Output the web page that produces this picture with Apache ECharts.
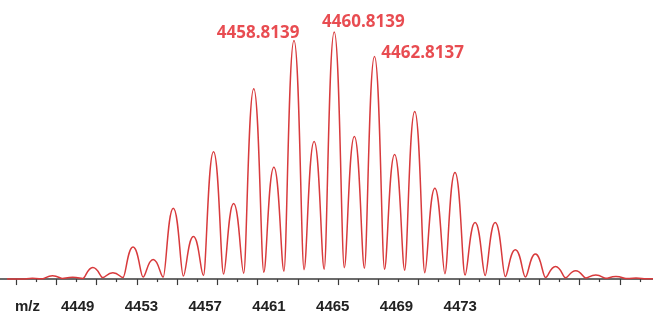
<!DOCTYPE html>
<html>
<head>
<meta charset="utf-8">
<script src="https://cdn.jsdelivr.net/npm/echarts@6/dist/echarts.min.js"></script>
<style>html,body{margin:0;padding:0;background:#fff;}#chart{width:653px;height:322px;}</style>
</head>
<body>
<div id="chart"></div>
<script>
// Profile points (peak tops and valleys), m/z and relative intensity (%)
var profileMz = [4444.55, 4445.31, 4445.81, 4446.31, 4446.81, 4447.31, 4447.81, 4448.31, 4448.81, 4449.31,
  4449.81, 4450.31, 4450.81, 4451.31, 4451.81, 4452.31, 4452.81, 4453.31, 4453.81, 4454.31,
  4454.81, 4455.31, 4455.81, 4456.31, 4456.81, 4457.31, 4457.81, 4458.31, 4458.81, 4459.31,
  4459.81, 4460.31, 4460.81, 4461.31, 4461.81, 4462.31, 4462.81, 4463.31, 4463.81, 4464.31,
  4464.81, 4465.31, 4465.81, 4466.31, 4466.81, 4467.31, 4467.81, 4468.31, 4468.81, 4469.31,
  4469.81, 4470.31, 4470.81, 4471.31, 4471.81, 4472.31, 4472.81, 4473.31, 4473.81, 4474.31,
  4474.81, 4475.31, 4475.81, 4476.31, 4476.85];
var profileIntensity = [0, 0, 0.3, 0.1, 1.3, 0.2, 0.7, 0.2, 4.7, 0.6,
  2.6, 0.6, 13.0, 0.8, 7.9, 0.8, 28.7, 1.2, 17.2, 1.4,
  51.6, 2.0, 30.6, 2.4, 77.1, 2.8, 45.3, 3.2, 96.6, 3.8,
  55.7, 4.0, 100, 4.6, 57.7, 4.4, 90.1, 4.0, 50.4, 3.6,
  67.8, 2.6, 36.8, 2.2, 43.1, 1.6, 22.9, 1.4, 22.9, 1.0,
  11.9, 0.8, 10.1, 0.6, 5.1, 0.5, 3.4, 0.4, 1.6, 0.3,
  1.0, 0.2, 0.4, 0.1, 0.1];
// Annotated peaks
var annotMz = [4458.8139, 4460.8139, 4462.8137];
var annotIntensity = [96.6, 100, 90.1];
var annotText = ['4458.8139', '4460.8139', '4462.8137'];
// Tick labels printed under the axis
var tickLabels = ['4449', '4453', '4457', '4461', '4465', '4469', '4473'];
var axisTitle = 'm/z';

var profile = profileMz.map(function (m, i) { return [m, profileIntensity[i]]; });
var labelOffsets = [[-36, -7], [29, -10], [48, -3]];
var annot = annotMz.map(function (m, i) {
  return { value: [m, annotIntensity[i]], label: { offset: labelOffsets[i] }, name: annotText[i] };
});

// Curve shape: horizontal tangents at every extremum, rounder tops, tighter valleys
function handleFraction(i) {
  var v = profileIntensity[i];
  var prev = i > 0 ? profileIntensity[i - 1] : v;
  var next = i < profileIntensity.length - 1 ? profileIntensity[i + 1] : v;
  if (v > prev && v > next) return 0.55;
  if (v < prev && v < next) return 0.28;
  return 0.4;
}

function renderProfile(params, api) {
  if (params.dataIndex !== 0) return null;
  var pts = profile.map(function (p) { return api.coord(p); });
  var d = 'M' + pts[0][0] + ' ' + pts[0][1];
  for (var i = 0; i < pts.length - 1; i++) {
    var a = pts[i], b = pts[i + 1];
    var dx = b[0] - a[0];
    var c1x = a[0] + handleFraction(i) * dx;
    var c2x = b[0] - handleFraction(i + 1) * dx;
    d += ' C' + c1x + ' ' + a[1] + ' ' + c2x + ' ' + b[1] + ' ' + b[0] + ' ' + b[1];
  }
  return {
    type: 'path',
    shape: { pathData: d },
    style: { fill: 'none', stroke: '#d83a3c', lineWidth: 1.5 }
  };
}

var chart = echarts.init(document.getElementById('chart'), null, { renderer: 'canvas' });
chart.setOption({
  animation: false,
  backgroundColor: '#ffffff',
  title: {
    text: axisTitle, left: 10, top: 294,
    textStyle: { fontFamily: 'Liberation Sans', fontWeight: 'bold', fontSize: 15, color: '#222' }
  },
  grid: [
    { left: -4, right: -7, top: 0, bottom: 38, outerBoundsMode: 'none', containLabel: false },
    { left: -2, right: 129, top: 200, bottom: 38, outerBoundsMode: 'none', containLabel: false }
  ],
  xAxis: [
    {
      gridIndex: 0, type: 'value', min: 4444, max: 4477, interval: 2,
      axisLine: { show: true, lineStyle: { color: '#3a3a3a', width: 1.5 } },
      axisTick: { show: true, length: 3, lineStyle: { color: '#3a3a3a', width: 1.2 } },
      minorTick: { show: true, splitNumber: 2, length: 6, lineStyle: { color: '#3a3a3a', width: 1.2 } },
      axisLabel: { show: false }, splitLine: { show: false }
    },
    {
      gridIndex: 1, type: 'value', min: 4444, max: 4477, interval: 1,
      axisLine: { show: false }, axisTick: { show: false }, splitLine: { show: false },
      axisLabel: {
        show: true, margin: 15, fontFamily: 'Liberation Sans', fontWeight: 'bold', fontSize: 15, color: '#222',
        formatter: function (v) { var s = String(Math.round(v)); return tickLabels.indexOf(s) >= 0 ? s : ''; }
      }
    }
  ],
  yAxis: [
    { gridIndex: 0, type: 'value', min: -2, max: 113, show: false },
    { gridIndex: 1, type: 'value', show: false }
  ],
  series: [
    {
      type: 'custom', xAxisIndex: 0, yAxisIndex: 0, data: profile,
      renderItem: renderProfile, silent: true, clip: true,
      encode: { x: 0, y: 1 }
    },
    {
      type: 'scatter', xAxisIndex: 0, yAxisIndex: 0, data: annot, symbolSize: 0,
      label: {
        show: true, position: 'inside', formatter: function (p) { return p.name; },
        fontFamily: 'Open Sans', fontWeight: 'bold', fontSize: 17, color: '#e21f26'
      }
    }
  ]
});
</script>
</body>
</html>
